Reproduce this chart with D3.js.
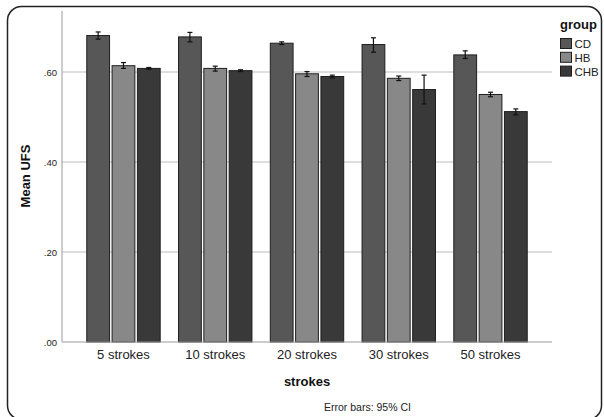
<!DOCTYPE html>
<html>
<head>
<meta charset="utf-8">
<script src="https://cdn.jsdelivr.net/npm/d3@7"></script>
<style>
  body { margin: 0; background: #fff; }
  svg { display: block; font-family: "Liberation Sans", Arial, sans-serif; }
</style>
</head>
<body>
<svg id="chart" width="604" height="417"></svg>
<script>
const categories = ['5 strokes', '10 strokes', '20 strokes', '30 strokes', '50 strokes'];
const groups = ['CD', 'HB', 'CHB'];
const cdMean = [0.681, 0.678, 0.664, 0.661, 0.638];
const cdLow = [0.673, 0.667, 0.661, 0.644, 0.630];
const cdHigh = [0.689, 0.688, 0.667, 0.676, 0.647];
const hbMean = [0.614, 0.608, 0.596, 0.586, 0.550];
const hbLow = [0.608, 0.602, 0.590, 0.581, 0.545];
const hbHigh = [0.621, 0.613, 0.601, 0.591, 0.555];
const chbMean = [0.608, 0.603, 0.590, 0.561, 0.512];
const chbLow = [0.606, 0.601, 0.587, 0.529, 0.505];
const chbHigh = [0.610, 0.605, 0.593, 0.593, 0.518];
const yTicks = [0, 0.2, 0.4, 0.6];

const colors = { CD: '#575757', HB: '#888888', CHB: '#393939' };
const series = {
  CD: { mean: cdMean, lo: cdLow, hi: cdHigh },
  HB: { mean: hbMean, lo: hbLow, hi: hbHigh },
  CHB: { mean: chbMean, lo: chbLow, hi: chbHigh }
};

const rows = [];
categories.forEach((c, i) => {
  groups.forEach(g => {
    rows.push({ cat: c, group: g, mean: series[g].mean[i], lo: series[g].lo[i], hi: series[g].hi[i] });
  });
});

const svg = d3.select('#chart');

// frame
svg.append('rect')
  .attr('x', 7.5).attr('y', 6.5)
  .attr('width', 594).attr('height', 413)
  .attr('rx', 14).attr('ry', 14)
  .attr('fill', 'none')
  .attr('stroke', '#222')
  .attr('stroke-width', 1.5);

const plotLeft = 62, plotRight = 552, plotTop = 11, plotBottom = 342;

const y = d3.scaleLinear().domain([0, 0.2]).range([plotBottom, plotBottom - 90]);
const x0 = d3.scaleBand().domain(categories).range([plotLeft, plotRight]).paddingInner(0.2).paddingOuter(0.27);
const x1 = d3.scaleBand().domain(groups).range([0, x0.bandwidth()]).paddingInner(0.1);

// gridlines
svg.append('g')
  .selectAll('line')
  .data(yTicks.filter(d => d > 0))
  .enter()
  .append('line')
  .attr('x1', plotLeft).attr('x2', plotRight)
  .attr('y1', d => y(d)).attr('y2', d => y(d))
  .attr('stroke', '#bdbdbd')
  .attr('stroke-width', 1);

// bars
svg.append('g')
  .selectAll('rect')
  .data(rows)
  .enter()
  .append('rect')
  .attr('x', d => x0(d.cat) + x1(d.group))
  .attr('y', d => y(d.mean))
  .attr('width', x1.bandwidth())
  .attr('height', d => y(0) - y(d.mean))
  .attr('fill', d => colors[d.group])
  .attr('stroke', '#1e1e1e')
  .attr('stroke-width', 1);

// error bars
const err = svg.append('g').attr('stroke', '#111').attr('stroke-width', 1.2);
rows.forEach(d => {
  const cx = x0(d.cat) + x1(d.group) + x1.bandwidth() / 2;
  err.append('line').attr('x1', cx).attr('x2', cx).attr('y1', y(d.lo)).attr('y2', y(d.hi));
  err.append('line').attr('x1', cx - 2.5).attr('x2', cx + 2.5).attr('y1', y(d.lo)).attr('y2', y(d.lo));
  err.append('line').attr('x1', cx - 2.5).attr('x2', cx + 2.5).attr('y1', y(d.hi)).attr('y2', y(d.hi));
});

// axes lines
svg.append('line')
  .attr('x1', plotLeft).attr('x2', plotLeft).attr('y1', plotTop).attr('y2', plotBottom)
  .attr('stroke', '#9a9a9a');
svg.append('line')
  .attr('x1', plotLeft).attr('x2', plotRight).attr('y1', plotBottom).attr('y2', plotBottom)
  .attr('stroke', '#9a9a9a');

// y tick labels
svg.append('g')
  .selectAll('text')
  .data(yTicks)
  .enter()
  .append('text')
  .attr('x', 57)
  .attr('y', d => y(d) + 3.5)
  .attr('text-anchor', 'end')
  .attr('font-size', 9.5)
  .attr('fill', '#222')
  .text(d => d3.format('.2f')(d).replace(/^0/, ''));

// x tick labels
svg.append('g')
  .selectAll('text')
  .data(categories)
  .enter()
  .append('text')
  .attr('x', d => x0(d) + x0.bandwidth() / 2)
  .attr('y', 358.5)
  .attr('text-anchor', 'middle')
  .attr('font-size', 13)
  .attr('fill', '#222')
  .text(d => d);

// axis titles
svg.append('text')
  .attr('x', 307).attr('y', 386)
  .attr('text-anchor', 'middle')
  .attr('font-size', 13)
  .attr('font-weight', 'bold')
  .attr('fill', '#111')
  .text('strokes');

svg.append('text')
  .attr('transform', 'translate(30,176) rotate(-90)')
  .attr('text-anchor', 'middle')
  .attr('font-size', 13)
  .attr('font-weight', 'bold')
  .attr('fill', '#111')
  .text('Mean UFS');

svg.append('text')
  .attr('x', 324).attr('y', 411)
  .attr('font-size', 10.5)
  .attr('fill', '#222')
  .text('Error bars: 95% CI');

// legend
const legend = svg.append('g').attr('transform', 'translate(560,0)');
legend.append('text')
  .attr('x', 0).attr('y', 29)
  .attr('font-size', 13)
  .attr('font-weight', 'bold')
  .attr('fill', '#111')
  .text('group');
groups.forEach((g, i) => {
  const yy = 38.5 + i * 13.8;
  legend.append('rect')
    .attr('x', 0.5).attr('y', yy)
    .attr('width', 11).attr('height', 10)
    .attr('fill', colors[g])
    .attr('stroke', '#1e1e1e');
  legend.append('text')
    .attr('x', 14.5).attr('y', yy + 9.5)
    .attr('font-size', 11.5)
    .attr('fill', '#222')
    .text(g);
});
</script>
</body>
</html>
